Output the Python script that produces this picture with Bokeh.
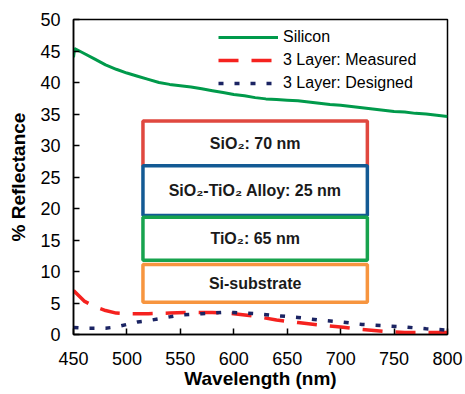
from bokeh.plotting import figure
from bokeh.models import Range1d, FixedTicker, Legend, LegendItem, Label
from bokeh.embed import file_html
from bokeh.resources import INLINE

# ---- data ----
wl_si = [450, 451, 460, 470, 480, 490, 500, 510, 520, 530, 540, 550, 560, 570, 580,
         590, 600, 610, 620, 630, 640, 650, 660, 670, 680, 690, 700, 710, 720, 730,
         740, 750, 760, 770, 780, 790, 800]
r_si = [44.0, 45.4, 44.6, 43.7, 42.8, 42.1, 41.5, 41.0, 40.5, 40.0, 39.7, 39.5, 39.3,
        39.0, 38.7, 38.4, 38.1, 37.9, 37.6, 37.4, 37.3, 37.2, 37.1, 36.9, 36.7, 36.5,
        36.4, 36.2, 36.0, 35.8, 35.6, 35.4, 35.3, 35.1, 35.0, 34.8, 34.6]

wl_meas = [450, 460, 470, 480, 490, 500, 520, 540, 560, 580, 600, 620, 640, 660, 680,
           700, 720, 740, 760, 780, 800]
r_meas = [7.0, 5.3, 4.4, 3.8, 3.4, 3.3, 3.3, 3.4, 3.5, 3.5, 3.3, 2.9, 2.3, 1.9, 1.5,
          1.2, 0.8, 0.5, 0.3, 0.3, 0.3]

wl_des = [450, 460, 470, 480, 490, 500, 510, 520, 530, 540, 550, 560, 570, 580, 590,
          600, 620, 640, 660, 680, 700, 720, 740, 760, 780, 800]
r_des = [1.1, 1.0, 1.0, 1.0, 1.2, 1.6, 2.0, 2.2, 2.5, 2.8, 3.1, 3.2, 3.3, 3.4, 3.5,
         3.5, 3.3, 3.0, 2.7, 2.3, 2.0, 1.6, 1.4, 1.2, 0.9, 0.7]

series_names = ["Silicon", "3 Layer: Measured", "3 Layer: Designed"]

x_ticks = [450, 500, 550, 600, 650, 700, 750, 800]
y_ticks = [0, 5, 10, 15, 20, 25, 30, 35, 40, 45, 50]

# inset layer stack (label, top, bottom in % reflectance units)
layer_labels = ["SiO\u2082: 70 nm", "SiO\u2082-TiO\u2082 Alloy: 25 nm", "TiO\u2082: 65 nm", "Si-substrate"]
layer_tops = [33.9, 26.8, 18.6, 11.1]
layer_bottoms = [26.8, 18.9, 11.8, 5.1]
layer_colors = ["#e0483f", "#135a94", "#17a34e", "#f7953f"]
layer_left, layer_right = 515, 725

FONT = "Liberation Sans"

p = figure(width=465, height=394, output_backend="svg", toolbar_location=None,
           x_range=Range1d(450, 800), y_range=Range1d(0, 50),
           min_border_left=73, min_border_right=18, min_border_top=19, min_border_bottom=60)

p.xgrid.visible = False
p.ygrid.visible = False
p.outline_line_color = "black"
p.outline_line_width = 1.5
p.background_fill_color = "white"
p.border_fill_color = "white"

for ax in (p.xaxis[0], p.yaxis[0]):
    ax.major_tick_in = 6
    ax.major_tick_out = 0
    ax.minor_tick_line_color = None
    ax.axis_line_width = 1.5
    ax.major_tick_line_width = 1.5
    ax.major_label_text_font = FONT
    ax.major_label_text_font_size = "18px"
    ax.major_label_text_color = "black"
    ax.axis_label_text_font = FONT
    ax.axis_label_text_font_style = "bold"
    ax.axis_label_text_font_size = "19px"
    ax.axis_label_text_color = "black"

p.xaxis.ticker = FixedTicker(ticks=x_ticks)
p.yaxis.ticker = FixedTicker(ticks=y_ticks)
p.xaxis.axis_label = "Wavelength (nm)"
p.yaxis.axis_label = "% Reflectance"
p.xaxis.major_label_standoff = 17
p.xaxis.axis_label_standoff = 0
p.yaxis.major_label_standoff = 13
p.yaxis.axis_label_standoff = 8

# inset boxes
for top, bot, col in zip(layer_tops, layer_bottoms, layer_colors):
    p.quad(left=[layer_left], right=[layer_right], top=[top], bottom=[bot],
           fill_color="white", line_color=col, line_width=3.5)
for lab, top, bot in zip(layer_labels, layer_tops, layer_bottoms):
    p.add_layout(Label(x=(layer_left + layer_right) / 2, y=(top + bot) / 2, text=lab,
                       text_align="center", text_baseline="middle",
                       text_font=FONT, text_font_style="bold", text_font_size="16px",
                       text_color="#1a1a1a"))

l_si = p.line(wl_si, r_si, line_color="#009a4b", line_width=3)
l_meas = p.line(wl_meas, r_meas, line_color="#f5221f", line_width=3.5, line_dash="20 13")
l_des = p.line(wl_des, r_des, line_color="#1b2463", line_width=3.5, line_dash="5 11")

legend = Legend(items=[LegendItem(label=series_names[0], renderers=[l_si]),
                       LegendItem(label=series_names[1], renderers=[l_meas]),
                       LegendItem(label=series_names[2], renderers=[l_des])],
                location=(145, 241))
legend.label_text_font = FONT
legend.label_text_font_size = "16px"
legend.label_text_color = "black"
legend.glyph_width = 60
legend.glyph_height = 20
legend.label_standoff = 5
legend.spacing = 3
legend.padding = 0
legend.margin = 0
legend.border_line_alpha = 0
legend.background_fill_alpha = 0
p.add_layout(legend)

open("out.html", "w").write(file_html(p, INLINE))
